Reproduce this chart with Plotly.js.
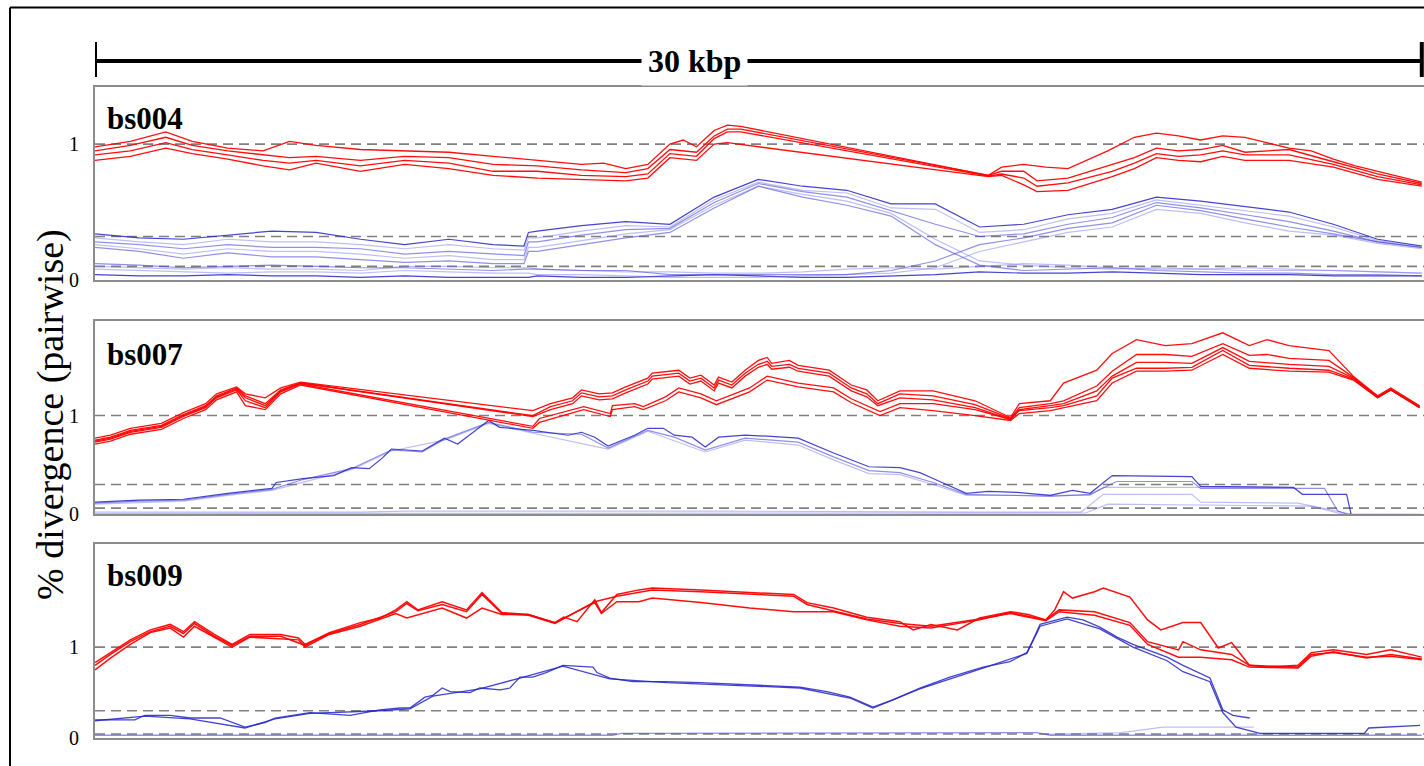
<!DOCTYPE html>
<html>
<head>
<meta charset="utf-8">
<script src="https://cdn.plot.ly/plotly-3.0.1.min.js"></script>
<style>html,body{margin:0;padding:0;background:#fff;}#chart{width:1424px;height:766px;}</style>
</head>
<body>
<div id="chart"></div>
<script>
// ---------------- DATA (kbp, % divergence) ----------------
const PANEL_NAMES = ["bs004", "bs007", "bs009"];
const SCALE_LABEL = "30 kbp";
const SCALE_KBP = [0, 30];
const Y_TICKS = [0, 1];
const P1_LEVELS = [1, 0.32, 0.10];
const P2_LEVELS = [1, 0.30, 0.06];
const P3_LEVELS = [1, 0.30, 0.044];

// Panel 1 (bs004) red
const P1_R1 = [[0,0.98],[0.8,1.02],[1.6,1.09],[2.2,1.02],[3,0.97],[3.8,0.95],[4.4,1.02],[5,0.99],[6,0.96],[7,0.95],[8,0.94],[9,0.91],[10,0.88],[11,0.85],[11.5,0.86],[12,0.82],[12.5,0.85],[13,1.0],[13.3,1.03],[13.6,0.98],[14,1.1],[14.3,1.14],[14.6,1.13],[20.2,0.77],[20.5,0.83],[21,0.85],[21.5,0.83],[22,0.82],[22.9,0.95],[23.5,1.05],[24,1.08],[24.5,1.06],[25,1.03],[25.5,1.06],[26,1.05],[26.5,1.01],[27,0.97],[27.5,0.95],[28,0.89],[28.5,0.84],[29,0.80],[29.5,0.76],[30,0.72]];
const P1_R2 = [[0,0.95],[0.8,0.99],[1.6,1.05],[2.2,0.99],[3,0.95],[3.8,0.92],[4.4,0.9],[5,0.91],[6,0.88],[7,0.91],[8,0.9],[9,0.85],[10,0.84],[11,0.81],[12,0.79],[12.5,0.82],[13,0.96],[13.6,0.94],[14,1.06],[14.3,1.11],[14.6,1.11],[20.2,0.77],[20.5,0.8],[21,0.8],[21.3,0.73],[22,0.75],[23,0.85],[23.5,0.9],[24,0.97],[24.5,0.95],[25,0.96],[25.5,0.99],[26,0.94],[27,0.96],[28,0.87],[29,0.78],[30,0.71]];
const P1_R3 = [[0,0.92],[0.8,0.95],[1.6,1.01],[2.2,0.96],[3,0.92],[3.8,0.88],[4.4,0.86],[5,0.88],[6,0.84],[7,0.88],[8,0.86],[9,0.80],[10,0.80],[11,0.77],[12,0.76],[12.5,0.78],[13,0.93],[13.6,0.91],[14,1.04],[14.3,1.09],[14.6,1.09],[20.2,0.765],[20.5,0.78],[21,0.75],[21.3,0.69],[22,0.715],[23,0.80],[23.5,0.86],[24,0.93],[24.5,0.91],[25,0.92],[25.5,0.95],[26,0.92],[27,0.92],[28,0.85],[29,0.76],[30,0.70]];
const P1_R4 = [[0,0.88],[0.8,0.91],[1.6,0.97],[2.2,0.93],[3,0.89],[3.8,0.84],[4.4,0.81],[5,0.86],[6,0.8],[7,0.85],[8,0.82],[9,0.77],[10,0.75],[11,0.74],[12,0.73],[12.5,0.75],[13,0.9],[13.6,0.88],[14,1.0],[14.3,1.01],[20.2,0.76],[20.5,0.77],[21,0.70],[21.3,0.65],[22,0.66],[23,0.76],[23.5,0.82],[24,0.90],[24.5,0.88],[25,0.87],[25.5,0.91],[26,0.88],[27,0.88],[28,0.83],[29,0.74],[30,0.69]];

// Panel 1 blue (shared kbp grid)
const P1_BLUE_KBP = [0,1,2,3,4,5,6,7,8,9,9.7,9.8,10,11,12,13,14,15,16,17,18,19,20,21,22,23,24,25,26,27,28,29,30];
const P1_B1 = [0.34,0.31,0.30,0.33,0.36,0.35,0.30,0.26,0.30,0.26,0.25,0.35,0.36,0.40,0.43,0.41,0.61,0.74,0.69,0.66,0.56,0.56,0.39,0.41,0.48,0.52,0.61,0.58,0.54,0.50,0.41,0.30,0.25];
const P1_B2 = [0.31,0.28,0.26,0.30,0.28,0.28,0.26,0.23,0.26,0.23,0.22,0.31,0.31,0.36,0.40,0.39,0.59,0.72,0.66,0.64,0.53,0.52,0.35,0.37,0.45,0.49,0.59,0.55,0.51,0.47,0.39,0.29,0.25];
const P1_B3 = [0.28,0.26,0.23,0.26,0.24,0.24,0.23,0.19,0.21,0.19,0.18,0.28,0.28,0.33,0.37,0.38,0.57,0.71,0.65,0.61,0.51,0.41,0.32,0.34,0.41,0.46,0.57,0.53,0.48,0.43,0.36,0.28,0.24];
const P1_B4 = [0.26,0.23,0.19,0.23,0.21,0.21,0.19,0.16,0.18,0.15,0.15,0.24,0.24,0.29,0.34,0.37,0.55,0.69,0.63,0.58,0.49,0.30,0.14,0.11,0.09,0.08,0.09,0.08,0.07,0.07,0.07,0.06,0.05];
const P1_B5 = [0.24,0.21,0.16,0.20,0.17,0.17,0.15,0.13,0.14,0.12,0.12,0.21,0.21,0.26,0.31,0.35,0.53,0.69,0.61,0.55,0.47,0.26,0.11,0.07,0.08,0.09,0.07,0.06,0.05,0.05,0.04,0.04,0.03];
const P1_L1 = [0.12,0.11,0.09,0.10,0.11,0.10,0.09,0.09,0.08,0.07,0.08,0.08,0.08,0.07,0.07,0.04,0.04,0.04,0.04,0.04,0.07,0.14,0.26,0.31,0.38,0.42,0.55,0.51,0.45,0.39,0.34,0.28,0.24];
const P1_L2 = [0.08,0.07,0.06,0.05,0.06,0.06,0.05,0.07,0.06,0.05,0.05,0.05,0.04,0.04,0.03,0.02,0.02,0.02,0.03,0.04,0.05,0.09,0.21,0.28,0.35,0.39,0.52,0.49,0.42,0.36,0.33,0.27,0.23];
const P1_L3 = [0.04,0.03,0.03,0.04,0.03,0.03,0.02,0.03,0.02,0.02,0.02,0.02,0.03,0.02,0.02,0.03,0.04,0.03,0.02,0.02,0.03,0.04,0.06,0.05,0.05,0.06,0.05,0.04,0.04,0.04,0.03,0.03,0.03];
const P1_L4 = [0.10,0.09,0.08,0.09,0.08,0.08,0.07,0.10,0.10,0.09,0.09,0.09,0.08,0.07,0.06,0.06,0.05,0.05,0.06,0.08,0.09,0.08,0.10,0.12,0.11,0.09,0.08,0.08,0.09,0.08,0.07,0.06,0.05];

// Panel 2 (bs007) red
const P2_Q1 = [[0,0.77],[0.35,0.80],[0.8,0.87],[1.5,0.92],[2,1.03],[2.5,1.12],[2.75,1.22],[3.2,1.29],[3.4,1.22],[3.85,1.18],[4.2,1.28],[4.65,1.34],[9.9,1.05],[10.3,1.12],[10.8,1.18],[11.0,1.26],[11.4,1.22],[11.7,1.23],[12.0,1.29],[12.5,1.38],[12.6,1.43],[13.2,1.46],[13.45,1.38],[13.7,1.41],[14.0,1.31],[14.1,1.39],[14.4,1.34],[14.7,1.46],[15.0,1.56],[15.2,1.59],[15.3,1.53],[15.7,1.56],[15.9,1.51],[16.6,1.46],[17.1,1.31],[17.45,1.26],[17.7,1.15],[18.2,1.25],[18.95,1.25],[19.9,1.15],[20.7,0.98],[20.9,1.12],[21.6,1.15],[21.9,1.33],[22.65,1.46],[23.0,1.63],[23.55,1.77],[24.2,1.71],[24.8,1.73],[25.5,1.84],[26.1,1.71],[26.5,1.77],[27.0,1.71],[27.9,1.66],[28.45,1.40],[29.0,1.20],[29.3,1.28],[29.95,1.10]];
const P2_Q2 = [[0,0.75],[0.35,0.78],[0.8,0.85],[1.5,0.90],[2,1.01],[2.5,1.10],[2.75,1.20],[3.2,1.28],[3.4,1.20],[3.85,1.12],[4.2,1.26],[4.65,1.33],[9.9,1.0],[10.3,1.09],[10.8,1.15],[11.0,1.23],[11.4,1.19],[11.7,1.20],[12.0,1.26],[12.5,1.35],[12.6,1.40],[13.2,1.43],[13.45,1.35],[13.7,1.38],[14.0,1.28],[14.1,1.36],[14.4,1.31],[14.7,1.43],[15.0,1.52],[15.2,1.55],[15.3,1.50],[15.7,1.52],[15.9,1.48],[16.6,1.43],[17.1,1.28],[17.45,1.22],[17.7,1.12],[18.2,1.22],[18.95,1.20],[19.9,1.11],[20.7,0.97],[20.9,1.08],[21.6,1.12],[21.9,1.15],[22.65,1.3],[23.0,1.45],[23.55,1.62],[24.2,1.62],[24.8,1.60],[25.5,1.73],[26.1,1.61],[26.5,1.62],[27.0,1.58],[27.9,1.56],[28.45,1.39],[29.0,1.19],[29.3,1.27],[29.95,1.09]];
const P2_Q3 = [[0,0.74],[0.35,0.77],[0.8,0.84],[1.5,0.89],[2,1.00],[2.5,1.09],[2.75,1.19],[3.2,1.27],[3.4,1.18],[3.85,1.10],[4.2,1.25],[4.65,1.33],[9.9,0.99],[10.3,1.06],[10.8,1.12],[11.0,1.20],[11.4,1.16],[11.7,1.17],[12.0,1.23],[12.5,1.32],[12.6,1.37],[13.2,1.40],[13.45,1.32],[13.7,1.35],[14.0,1.25],[14.1,1.33],[14.4,1.28],[14.7,1.40],[15.0,1.49],[15.2,1.52],[15.3,1.47],[15.7,1.49],[15.9,1.45],[16.6,1.40],[17.1,1.25],[17.45,1.19],[17.7,1.10],[18.2,1.18],[18.95,1.16],[19.9,1.08],[20.7,0.96],[20.9,1.06],[21.6,1.10],[21.9,1.12],[22.65,1.25],[23.0,1.40],[23.55,1.54],[24.2,1.54],[24.8,1.53],[25.5,1.69],[26.1,1.55],[27.0,1.52],[27.9,1.50],[28.45,1.38],[29.0,1.19],[29.3,1.26],[29.95,1.09]];
const P2_Q4 = [[0,0.73],[0.35,0.76],[0.8,0.83],[1.5,0.88],[2,0.99],[2.5,1.08],[2.75,1.18],[3.2,1.26],[3.4,1.15],[3.85,1.08],[4.2,1.24],[4.65,1.32],[9.9,0.89],[10.05,0.97],[11.05,1.09],[11.65,1.02],[11.7,1.10],[12.2,1.12],[12.4,1.09],[12.9,1.19],[13.2,1.28],[13.7,1.22],[14.05,1.15],[14.8,1.28],[15.2,1.40],[15.9,1.33],[16.7,1.28],[17.1,1.17],[17.75,1.04],[18.2,1.12],[18.95,1.12],[19.9,1.06],[20.7,0.96],[20.9,1.05],[21.6,1.08],[21.9,1.10],[22.65,1.2],[23.0,1.38],[23.55,1.48],[24.2,1.48],[24.8,1.49],[25.5,1.66],[26.1,1.51],[27.0,1.48],[27.9,1.46],[28.45,1.37],[29.0,1.18],[29.3,1.26],[29.95,1.08]];
const P2_Q5 = [[0,0.71],[0.35,0.74],[0.8,0.81],[1.5,0.86],[2,0.97],[2.5,1.06],[2.75,1.16],[3.2,1.24],[3.4,1.10],[3.85,1.06],[4.2,1.22],[4.65,1.31],[9.9,0.87],[10.05,0.93],[11.05,1.06],[11.65,0.99],[11.7,1.06],[12.2,1.09],[12.4,1.06],[12.9,1.15],[13.2,1.24],[13.7,1.18],[14.05,1.11],[14.8,1.24],[15.2,1.36],[15.9,1.29],[16.7,1.24],[17.1,1.13],[17.75,1.0],[18.2,1.08],[18.95,1.05],[19.9,1.0],[20.7,0.95],[20.9,1.02],[21.6,1.05],[21.9,1.08],[22.65,1.15],[23.0,1.33],[23.55,1.45],[24.2,1.45],[24.8,1.46],[25.5,1.62],[26.1,1.48],[27.0,1.45],[27.9,1.44],[28.45,1.36],[29.0,1.18],[29.3,1.26],[29.95,1.08]];

// Panel 2 blue
const P2_C1 = [[0,0.12],[1,0.14],[2,0.15],[3,0.21],[4,0.26],[4.1,0.32],[4.7,0.36],[5.4,0.39],[5.8,0.47],[6.2,0.46],[6.5,0.57],[6.7,0.66],[7.4,0.64],[7.9,0.77],[8.2,0.71],[8.55,0.83],[8.9,0.95],[9.15,0.88],[9.9,0.85],[10.7,0.80],[11.0,0.83],[11.3,0.78],[11.6,0.69],[12.2,0.80],[12.5,0.87],[12.85,0.87],[13.1,0.80],[13.5,0.78],[13.8,0.68],[14.1,0.78],[14.7,0.80],[15.2,0.79],[15.9,0.77],[16.7,0.62],[17.5,0.48],[18.2,0.47],[18.65,0.42],[18.95,0.36],[19.3,0.29],[19.7,0.21],[20.2,0.23],[20.85,0.22],[21.6,0.19],[22.1,0.24],[22.5,0.21],[23.0,0.39],[24.8,0.38],[25.0,0.28],[27.1,0.27],[27.3,0.20],[28.3,0.20],[28.4,0.0]];
const P2_C2 = [[0,0.11],[1,0.13],[2,0.14],[3,0.20],[4,0.25],[4.7,0.35],[5.8,0.46],[6.7,0.65],[7.4,0.63],[7.9,0.76],[8.9,0.93],[9.9,0.83],[11.0,0.81],[11.6,0.67],[12.5,0.85],[13.1,0.78],[13.8,0.65],[14.7,0.77],[15.9,0.73],[16.7,0.58],[17.5,0.44],[18.2,0.42],[18.95,0.32],[19.7,0.20],[21.6,0.18],[22.5,0.20],[23.1,0.33],[24.8,0.33],[25.0,0.26],[27.8,0.26],[28.1,0.03],[28.3,0.0]];
const P2_C3 = [[0,0.10],[2,0.13],[3,0.19],[4,0.24],[5.8,0.45],[6.7,0.64],[7.9,0.75],[8.9,0.92],[9.9,0.82],[11.6,0.66],[12.5,0.84],[13.8,0.63],[14.7,0.75],[15.9,0.70],[16.7,0.55],[17.5,0.41],[18.2,0.40],[18.95,0.30],[19.7,0.19],[22.5,0.19],[22.8,0.27],[26.8,0.27]];
const P2_C4 = [[0,0.02],[6,0.02],[7,0.03],[14,0.03],[20,0.02],[22.3,0.02],[22.8,0.20],[24.8,0.20],[25.0,0.12],[27.2,0.11],[28.4,0.0]];
const P2_C5 = [[0,0.005],[22.4,0.01],[22.9,0.10],[27.5,0.08],[28.2,0.0],[30,0.0]];

// Panel 3 (bs009) red
const P3_S1 = [[0,0.83],[0.35,0.94],[0.8,1.08],[1.25,1.19],[1.7,1.25],[2.0,1.17],[2.25,1.28],[2.7,1.14],[3.1,1.03],[3.5,1.14],[4.2,1.14],[4.6,1.10],[4.75,1.03],[5.3,1.16],[6.0,1.27],[6.45,1.32],[6.8,1.41],[7.05,1.50],[7.3,1.41],[7.85,1.50],[8.4,1.41],[8.75,1.60],[9.2,1.38],[9.8,1.36],[10.4,1.27],[10.6,1.33],[10.9,1.28],[11.3,1.52],[11.45,1.38],[11.8,1.58],[12.3,1.63],[12.6,1.65],[13.7,1.63],[14.8,1.60],[15.8,1.58],[16.1,1.49],[16.7,1.43],[17.45,1.33],[18.2,1.28],[18.5,1.19],[18.9,1.25],[19.5,1.19],[20.0,1.32],[20.7,1.39],[21.1,1.36],[21.5,1.30],[21.7,1.41],[21.9,1.61],[22.1,1.54],[22.6,1.61],[22.8,1.65],[23.4,1.55],[23.8,1.30],[24.1,1.19],[24.6,1.27],[25.0,1.27],[25.4,0.99],[25.7,1.05],[26.1,0.80],[26.5,0.78],[27.2,0.80],[27.5,0.94],[28.0,0.97],[28.75,0.92],[29.3,0.97],[30,0.89]];
const P3_S2 = [[0,0.75],[0.35,0.88],[0.8,1.03],[1.25,1.16],[1.7,1.21],[2.0,1.11],[2.25,1.23],[2.7,1.11],[3.1,1.00],[3.5,1.11],[4.6,1.08],[4.75,1.00],[5.3,1.14],[6.0,1.23],[6.8,1.37],[7.05,1.32],[7.85,1.43],[8.4,1.32],[8.75,1.43],[9.2,1.36],[9.8,1.36],[10.4,1.27],[11.3,1.49],[11.45,1.37],[11.8,1.50],[12.3,1.50],[12.6,1.54],[13.7,1.49],[14.8,1.43],[15.8,1.39],[16.7,1.39],[17.45,1.30],[18.2,1.23],[18.9,1.21],[20.0,1.30],[20.7,1.38],[21.5,1.30],[21.8,1.41],[22.6,1.39],[23.4,1.27],[23.8,1.06],[24.5,0.97],[24.6,1.06],[25.0,0.97],[25.7,0.92],[26.1,0.80],[27.2,0.78],[27.5,0.92],[28.0,0.94],[28.75,0.89],[29.3,0.90],[30,0.86]];
const P3_S3 = [[0,0.80],[0.35,0.92],[0.8,1.06],[1.25,1.17],[1.7,1.23],[2.0,1.15],[2.25,1.26],[2.7,1.12],[3.1,1.02],[3.5,1.12],[4.2,1.12],[4.75,1.02],[5.3,1.15],[6.0,1.25],[6.8,1.39],[7.05,1.48],[7.3,1.40],[7.85,1.47],[8.4,1.39],[8.75,1.58],[9.2,1.37],[9.8,1.35],[10.4,1.26],[11.3,1.50],[11.8,1.56],[12.6,1.63],[13.7,1.61],[14.8,1.58],[15.8,1.56],[16.1,1.47],[17.45,1.31],[18.2,1.26],[18.9,1.23],[20.0,1.31],[20.7,1.37],[21.5,1.29],[21.8,1.39],[22.6,1.35],[23.4,1.24],[23.8,1.03],[24.5,0.89],[25.0,0.89],[25.7,0.86],[26.1,0.78],[27.2,0.77],[27.5,0.90],[28.0,0.95],[28.75,0.88],[29.3,0.92],[30,0.87]];

// Panel 3 blue
const P3_G1 = [[0,0.20],[0.9,0.20],[1.13,0.25],[1.7,0.25],[2.15,0.22],[2.83,0.22],[3.39,0.12],[3.84,0.17],[4.07,0.22],[4.86,0.28],[5.77,0.25],[6.44,0.31],[6.9,0.33],[7.12,0.33],[7.46,0.45],[7.64,0.47],[7.85,0.55],[8.03,0.51],[8.48,0.50],[8.7,0.55],[9.16,0.53],[9.38,0.55],[9.61,0.67],[9.9,0.67],[10.2,0.72],[10.58,0.80],[11.26,0.78],[11.35,0.72],[11.64,0.66],[12.16,0.62],[12.93,0.62],[13.68,0.61],[15.94,0.56],[16.55,0.51],[17.07,0.45],[17.59,0.34],[18.04,0.42],[18.65,0.55],[19.33,0.67],[20.08,0.78],[20.69,0.84],[21.07,0.94],[21.21,1.08],[21.37,1.25],[21.98,1.33],[22.34,1.30],[22.72,1.22],[23.11,1.11],[23.47,1.03],[24.24,0.89],[24.6,0.80],[25.21,0.66],[25.37,0.47],[25.5,0.31],[25.73,0.25],[26.11,0.22]];
const P3_G2 = [[0,0.19],[1.13,0.24],[2.15,0.21],[3.39,0.11],[4.07,0.21],[4.86,0.27],[6.44,0.30],[7.12,0.32],[7.64,0.46],[8.7,0.54],[9.61,0.66],[10.58,0.79],[11.64,0.65],[12.93,0.61],[15.94,0.55],[17.07,0.44],[17.59,0.33],[18.65,0.54],[20.08,0.77],[21.07,0.93],[21.37,1.23],[21.98,1.31],[22.72,1.20],[23.47,1.00],[24.24,0.85],[24.6,0.73],[25.21,0.62],[25.37,0.42],[25.5,0.28],[25.8,0.12],[26.34,0.05],[28.7,0.05],[28.8,0.11],[29.96,0.14]];
const P3_G3 = [[0,0.03],[11.7,0.03],[11.9,0.05],[21.3,0.06],[21.6,0.03],[30,0.03]];
const P3_G4 = [[21.5,0.04],[23.2,0.06],[24.15,0.12],[26.2,0.12]];

// ---------------- STYLES ----------------
const RED = "rgba(255,0,0,0.95)";
const BLUE_D = "rgba(35,35,200,0.85)";
const BLUE_M = "rgba(70,70,215,0.6)";
const BLUE_L = "rgba(110,110,235,0.45)";
const SERIF = "'Liberation Serif','Times New Roman',Times,serif";
const BOX = "#8c8c8c";

function fromPairs(p){ return {x: p.map(d=>d[0]), y: p.map(d=>d[1])}; }
function trace(xy, ax, color, w){
  return {type:"scatter", mode:"lines", x:xy.x, y:xy.y, xaxis:"x"+ax, yaxis:"y"+ax,
          line:{color:color, width:w}, hoverinfo:"skip", showlegend:false};
}
const traces = [];
// panel 1
const grid = P1_BLUE_KBP;
[[P1_L3,BLUE_D],[P1_L4,BLUE_L],[P1_L2,BLUE_L],[P1_L1,BLUE_M],[P1_B5,BLUE_M],[P1_B4,BLUE_L],[P1_B3,BLUE_M],[P1_B2,BLUE_L],[P1_B1,BLUE_D]]
  .forEach(([v,c])=>traces.push(trace({x:grid,y:v},"",c,1.2)));
[P1_R4,P1_R3,P1_R2,P1_R1].forEach(s=>traces.push(trace(fromPairs(s),"",RED,1.3)));
// panel 2
[[P2_C5,BLUE_L],[P2_C4,BLUE_L],[P2_C3,BLUE_L],[P2_C2,BLUE_M],[P2_C1,BLUE_D]]
  .forEach(([s,c])=>traces.push(trace(fromPairs(s),"2",c,1.2)));
[P2_Q5,P2_Q4,P2_Q3,P2_Q2,P2_Q1].forEach(s=>traces.push(trace(fromPairs(s),"2",RED,1.3)));
// panel 3
[[P3_G4,BLUE_L],[P3_G3,BLUE_M],[P3_G2,BLUE_D],[P3_G1,BLUE_D]]
  .forEach(([s,c])=>traces.push(trace(fromPairs(s),"3",c,1.3)));
[P3_S2,P3_S3,P3_S1].forEach(s=>traces.push(trace(fromPairs(s),"3",RED,1.5)));

// ---------------- LAYOUT ----------------
const W = 1424, H = 766;
const px = v => v / W, py = v => 1 - v / H;
const XDOM = [px(95), 1];
const XR = [0, 30.05];
function xa(anchor){ return {domain:XDOM, range:XR, anchor:anchor, showline:true, mirror:true, linecolor:BOX, linewidth:2,
  showgrid:false, zeroline:false, showticklabels:false, ticks:"", fixedrange:true}; }
function ya(anchor, dom, top){ return {domain:dom, range:[0, top], anchor:anchor, showline:true, linecolor:BOX, linewidth:2,
  showgrid:false, zeroline:false, ticks:"", tickvals:Y_TICKS, ticktext:Y_TICKS.map(String), ticklabelstandoff:10,
  tickfont:{family:SERIF, size:20, color:"#000"}, fixedrange:true}; }

const shapes = [];
function levels(arr, ax){
  arr.forEach(l=>shapes.push({type:"line", xref:"x"+ax, yref:"y"+ax, x0:XR[0], x1:XR[1], y0:l, y1:l,
    line:{color:"#808080", width:1.6, dash:"10px,6px"}, layer:"below"}));
}
levels(P1_LEVELS,""); levels(P2_LEVELS,"2"); levels(P3_LEVELS,"3");
// scale bar
shapes.push({type:"line", xref:"x", yref:"paper", x0:SCALE_KBP[0], x1:SCALE_KBP[1], y0:py(61), y1:py(61), line:{color:"#000", width:4}});
SCALE_KBP.forEach(k=>shapes.push({type:"line", xref:"x", yref:"paper", x0:k, x1:k, y0:py(42), y1:py(77), line:{color:"#000", width:4}}));
// outer frame
shapes.push({type:"line", xref:"paper", yref:"paper", x0:px(10), x1:px(10), y0:0, y1:py(7.5), line:{color:"#000", width:2}});
shapes.push({type:"line", xref:"paper", yref:"paper", x0:px(10), x1:1, y0:py(7.5), y1:py(7.5), line:{color:"#000", width:2}});

const annotations = [
  {xref:"paper", yref:"paper", x:px(694), y:py(61), text:"<b>"+SCALE_LABEL+"</b>", showarrow:false,
   font:{family:SERIF, size:32, color:"#000"}, bgcolor:"#fff", borderpad:6, xanchor:"center", yanchor:"middle"},
  {xref:"paper", yref:"paper", x:px(50), y:py(415), text:"% divergence (pairwise)", showarrow:false, textangle:-90,
   font:{family:SERIF, size:38, color:"#000"}, xanchor:"center", yanchor:"middle"}
];
[[PANEL_NAMES[0],118],[PANEL_NAMES[1],354],[PANEL_NAMES[2],575]].forEach(([t,y])=>annotations.push(
  {xref:"paper", yref:"paper", x:px(105), y:py(y), text:"<b>"+t+"</b>", showarrow:false,
   font:{family:SERIF, size:31, color:"#000"}, xanchor:"left", yanchor:"middle"}));

const layout = {
  width:W, height:H, margin:{l:0,r:0,t:0,b:0}, paper_bgcolor:"#fff", plot_bgcolor:"rgba(0,0,0,0)",
  showlegend:false,
  xaxis:xa("y"), xaxis2:xa("y2"), xaxis3:xa("y3"),
  yaxis:ya("x",[py(280),py(87)],1.42),
  yaxis2:ya("x2",[py(514),py(321)],1.96),
  yaxis3:ya("x3",[py(738),py(544)],2.135),
  shapes:shapes, annotations:annotations
};
Plotly.newPlot("chart", traces, layout, {staticPlot:true, displayModeBar:false});
</script>
</body>
</html>
